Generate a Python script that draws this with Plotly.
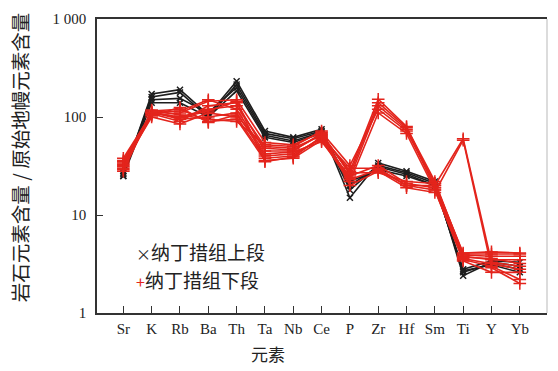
import plotly.graph_objects as go

elements = ["Sr", "K", "Rb", "Ba", "Th", "Ta", "Nb", "Ce", "P", "Zr", "Hf", "Sm", "Ti", "Y", "Yb"]

# 纳丁措组上段 (upper member) samples
upper_1 = [25, 172, 190, 105, 232, 72, 62, 75, 15, 34, 28, 22, 2.4, 3.3, 3.0]
upper_2 = [26, 160, 178, 100, 215, 68, 60, 72, 18, 32, 27, 21, 2.6, 3.2, 2.8]
upper_3 = [27, 150, 155, 110, 200, 65, 57, 70, 20, 31, 26, 20, 2.8, 3.4, 3.3]
upper_4 = [25, 140, 140, 100, 185, 62, 55, 68, 22, 29, 25, 20, 2.7, 3.1, 2.6]

# 纳丁措组下段 (lower member) samples
lower_1 = [30, 110, 100, 120, 130, 50, 48, 65, 28, 152, 80, 20, 3.8, 3.5, 3.5]
lower_2 = [32, 112, 95, 100, 110, 40, 42, 60, 24, 130, 75, 19, 3.6, 3.2, 2.8]
lower_3 = [35, 105, 110, 145, 150, 55, 52, 70, 32, 120, 72, 21, 4.0, 4.0, 4.0]
lower_4 = [28, 115, 120, 90, 95, 36, 38, 58, 22, 110, 68, 18, 3.5, 3.0, 2.2]
lower_5 = [38, 108, 90, 130, 140, 45, 45, 68, 26, 140, 78, 22, 3.9, 3.8, 3.8]
lower_6 = [33, 100, 85, 110, 100, 38, 40, 62, 30, 30, 20, 20, 60, 3.3, 3.0]
lower_7 = [29, 118, 105, 95, 90, 52, 50, 72, 20, 28, 19, 17, 58, 2.9, 2.0]
lower_8 = [36, 110, 115, 150, 120, 42, 44, 56, 25, 32, 21, 19, 3.7, 3.6, 3.2]
lower_9 = [31, 104, 125, 88, 105, 48, 46, 66, 27, 27, 22, 21, 4.1, 4.2, 4.1]
lower_10 = [34, 112, 98, 115, 145, 35, 39, 63, 23, 29, 20, 18, 3.4, 2.6, 2.6]

upper_series = [upper_1, upper_2, upper_3, upper_4]
lower_series = [lower_1, lower_2, lower_3, lower_4, lower_5,
                lower_6, lower_7, lower_8, lower_9, lower_10]

y_tickvals = [1, 10, 100, 1000]
y_ticktext = ["1", "10", "100", "1 000"]

BLACK = "#1e1e1e"
RED = "#e3241c"
SERIF = "Liberation Serif, Times New Roman, serif"
CJK = "Noto Sans CJK SC, sans-serif"

fig = go.Figure()
for s in upper_series:
    fig.add_trace(go.Scatter(
        x=elements, y=s, mode="lines+markers", showlegend=False,
        line=dict(color=BLACK, width=1.6),
        marker=dict(symbol="x-thin", size=6, line=dict(color=BLACK, width=1.5)),
    ))
for s in lower_series:
    fig.add_trace(go.Scatter(
        x=elements, y=s, mode="lines+markers", showlegend=False,
        line=dict(color=RED, width=1.6),
        marker=dict(symbol="cross-thin", size=9, line=dict(color=RED, width=1.5)),
    ))

fig.update_layout(
    width=558, height=371,
    margin=dict(l=97, r=11, t=13, b=58),
    paper_bgcolor="white", plot_bgcolor="white",
    showlegend=False,
    font=dict(family=SERIF, size=15, color="#222"),
)
fig.update_xaxes(
    type="category", categoryorder="array", categoryarray=elements,
    range=[-0.93, 14.96],
    showline=True, linecolor="#333", linewidth=1.5, mirror=True,
    ticks="inside", ticklen=7, tickwidth=1.2, tickcolor="#333",
    showgrid=False, zeroline=False,
    tickfont=dict(family=SERIF, size=15, color="#222"),
    ticklabelstandoff=1,
)
fig.update_yaxes(
    type="log", range=[0, 3],
    tickvals=y_tickvals, ticktext=y_ticktext,
    showline=True, linecolor="#333", linewidth=1.5, mirror=False,
    ticks="inside", ticklen=6, tickwidth=1.2, tickcolor="#333",
    showgrid=False, zeroline=False,
    tickfont=dict(family=SERIF, size=15, color="#222"),
    ticklabelstandoff=6,
)

# light right edge of the frame
fig.add_shape(type="line", xref="paper", yref="paper", x0=1, x1=1, y0=0, y1=1,
              line=dict(color="#d0d0d0", width=1.5))

# axis titles
fig.add_annotation(text="岩石元素含量 / 原始地幔元素含量", xref="paper", yref="paper",
                   x=-0.173, y=0.527, xanchor="center", yanchor="middle",
                   textangle=-90, showarrow=False,
                   font=dict(family=CJK, size=19.5, color="#222"))
fig.add_annotation(text="元素", xref="paper", yref="paper",
                   x=0.38, y=(313 - 354) / 300, xanchor="center", yanchor="middle",
                   showarrow=False, font=dict(family=CJK, size=17, color="#222"))

# legend
fig.add_annotation(text="<span style='color:#1e1e1e;font-size:15px'>×</span>纳丁措组上段",
                   xref="paper", yref="paper", x=0.083, y=(313 - 250) / 300,
                   xanchor="left", yanchor="middle", showarrow=False,
                   font=dict(family=CJK, size=19, color="#222"))
fig.add_annotation(text="<span style='color:#e3241c;font-size:16px'>+</span>纳丁措组下段",
                   xref="paper", yref="paper", x=0.083, y=(313 - 279) / 300,
                   xanchor="left", yanchor="middle", showarrow=False,
                   font=dict(family=CJK, size=19, color="#222"))

fig.write_html("out.html", config={"displayModeBar": False},
               post_script="document.body.style.margin='0';document.body.style.overflow='hidden';")
